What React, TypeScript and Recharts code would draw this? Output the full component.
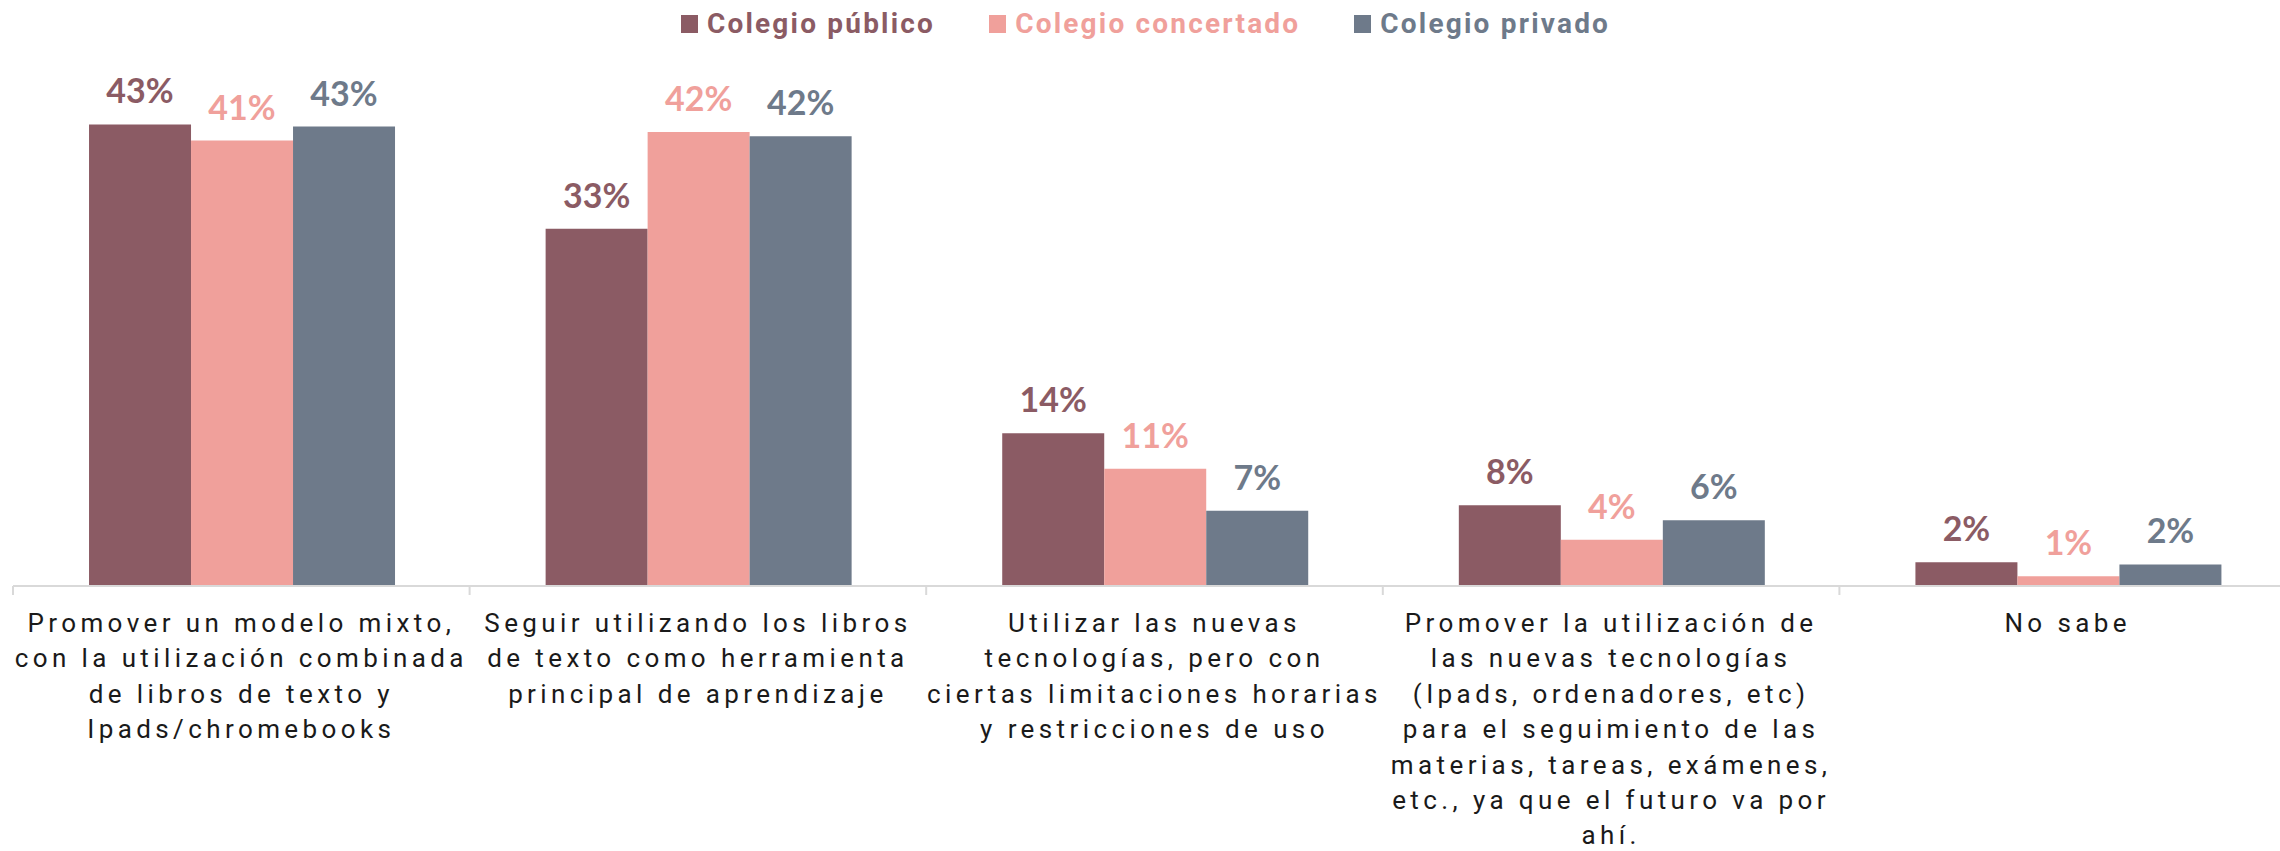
import React from 'react';
import { BarChart, Bar, XAxis, YAxis, Legend, LabelList } from 'recharts';

const categories = [
  'Promover un modelo mixto,\ncon la utilización combinada\nde libros de texto y\nIpads/chromebooks',
  'Seguir utilizando los libros\nde texto como herramienta\nprincipal de aprendizaje',
  'Utilizar las nuevas\ntecnologías, pero con\nciertas limitaciones horarias\ny restricciones de uso',
  'Promover la utilización de\nlas nuevas tecnologías\n(Ipads, ordenadores, etc)\npara el seguimiento de las\nmaterias, tareas, exámenes,\netc., ya que el futuro va por\nahí.',
  'No sabe',
];

const publico = [42.9, 33.2, 14.2, 7.5, 2.2];
const concertado = [41.4, 42.2, 10.9, 4.3, 0.9];
const privado = [42.7, 41.8, 7.0, 6.1, 2.0];

const SERIES = [
  { key: 'publico', name: 'Colegio público', color: '#8B5B64' },
  { key: 'concertado', name: 'Colegio concertado', color: '#F0A09B' },
  { key: 'privado', name: 'Colegio privado', color: '#6E7A8A' },
];

const data = categories.map((label, i) => ({
  label,
  publico: publico[i],
  concertado: concertado[i],
  privado: privado[i],
}));

const CHART_W = 2296;
const CHART_H = 851;
const MARGIN = { top: 0, right: 0, bottom: 0, left: 13 };
const PLOT_W = CHART_W - MARGIN.left - MARGIN.right;
const BAND = PLOT_W / categories.length;

const CategoryTick = (props: any) => {
  const { x, y, payload } = props;
  const lines = String(payload.value).split('\n');
  const left = x - BAND / 2;
  return (
    <g>
      <line x1={left} y1={y} x2={left} y2={y + 9} stroke="#D9D9D9" strokeWidth={2} />
      <text
        x={x}
        y={y}
        textAnchor="middle"
        fill="#1A1A1A"
        style={{ fontFamily: 'Roboto, sans-serif', fontSize: 26, letterSpacing: 4.4 }}
      >
        {lines.map((ln, i) => (
          <tspan key={i} x={x} y={y + 46 + i * 35.4}>
            {ln}
          </tspan>
        ))}
      </text>
    </g>
  );
};

const LegendContent = () => (
  <div
    style={{
      display: 'flex',
      justifyContent: 'center',
      paddingTop: 8,
      paddingRight: 18,
      fontFamily: 'Roboto, sans-serif',
      fontWeight: 700,
      fontSize: 28,
      lineHeight: '32px',
      letterSpacing: 2.2,
    }}
  >
    {SERIES.map((s, i) => (
      <span key={s.key} style={{ color: s.color, marginLeft: i === 0 ? 0 : 54, whiteSpace: 'nowrap' }}>
        <span
          style={{
            display: 'inline-block',
            width: 17,
            height: 18,
            background: s.color,
            marginRight: 9,
          }}
        />
        {s.name}
      </span>
    ))}
  </div>
);

export default function App() {
  return (
    <div style={{ position: 'absolute', left: 0, top: 0, width: 2280, height: 851, overflow: 'hidden', background: '#fff' }}>
      <BarChart width={CHART_W} height={CHART_H} data={data} margin={MARGIN} barGap={0} barCategoryGap="16.65%">
        <XAxis
          dataKey="label"
          interval={0}
          height={265}
          tickLine={false}
          tickSize={0}
          tickMargin={0}
          axisLine={{ stroke: '#D9D9D9', strokeWidth: 2 }}
          tick={<CategoryTick />}
        />
        <YAxis hide domain={[0, 50]} />
        <Legend verticalAlign="top" height={48} content={<LegendContent />} />
        {SERIES.map((s) => (
          <Bar key={s.key} dataKey={s.key} name={s.name} fill={s.color} isAnimationActive={false}>
            <LabelList
              dataKey={s.key}
              position="top"
              offset={21}
              formatter={(v: any) => `${Math.round(Number(v))}%`}
              style={{ fill: s.color, fontFamily: 'Lato, sans-serif', fontWeight: 700, fontSize: 34 }}
            />
          </Bar>
        ))}
      </BarChart>
    </div>
  );
}
